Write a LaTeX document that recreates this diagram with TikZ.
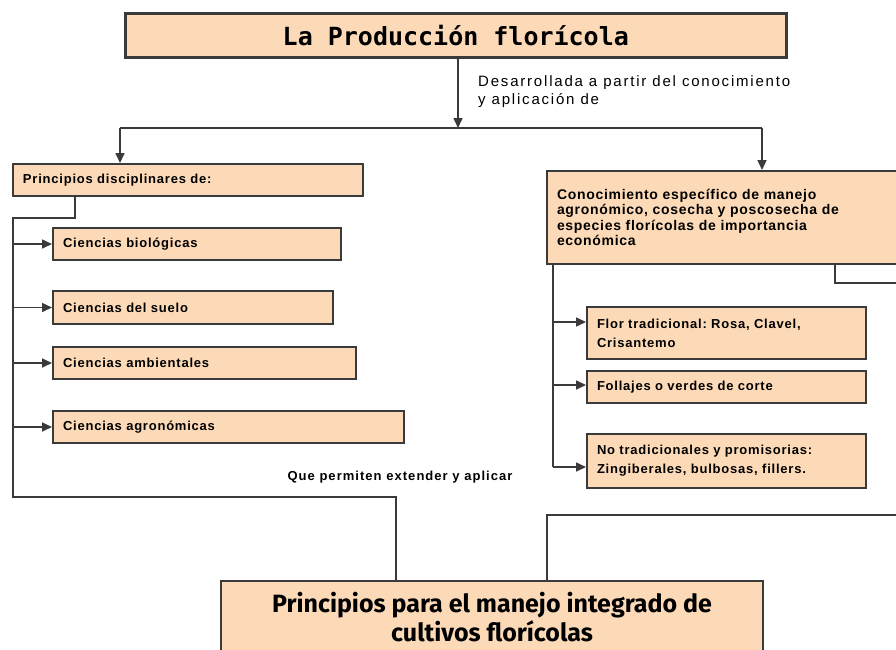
\documentclass[tikz,border=0pt]{standalone}
\usepackage{fontspec}
\setmainfont{Liberation Sans}
\newfontfamily\titlefont{DejaVu Sans Mono}
\newfontfamily\lblfont[LetterSpace=12]{Liberation Sans}
\newfontfamily\boxfont[LetterSpace=6]{Liberation Sans}
\newfontfamily\conofont[LetterSpace=5]{Liberation Sans}
\newfontfamily\quefont[LetterSpace=8]{Liberation Sans}
\newfontfamily\finfont{Fira Sans}
\usetikzlibrary{arrows.meta}
\definecolor{peach}{RGB}{252,218,184}
\definecolor{edge}{RGB}{58,58,58}
\tikzset{
  box/.style={draw=edge, fill=peach, line width=2pt, anchor=north west, inner xsep=10pt, inner ysep=2pt, align=left, font=\frenchspacing\boxfont\bfseries\fontsize{13}{16}\selectfont},
  conn/.style={draw=edge, line width=1.6pt},
  arr/.style={conn, -{Triangle[length=10pt,width=9pt]}}
}
\begin{document}
\frenchspacing
\begin{tikzpicture}[x=1pt,y=-1pt]
\clip (0,0) rectangle (896,649);
\fill[white] (0,0) rectangle (896,649);
% title
\node[box, line width=2.6pt, minimum width=661pt, minimum height=44pt, align=center, font=\titlefont\bfseries\fontsize{25}{28}\selectfont] (top) at (124,12) {La Producción florícola};
% left group
\node[box, minimum width=350pt, minimum height=32pt, text width=330pt] (pd) at (12,163) {Principios disciplinares de:};
\node[box, minimum width=288pt, minimum height=32pt, text width=268pt] (cb) at (52,227) {Ciencias biológicas};
\node[box, minimum width=280pt, minimum height=33pt, text width=260pt] (cs) at (52,290) {Ciencias del suelo};
\node[box, minimum width=303pt, minimum height=32pt, text width=283pt] (ca) at (52,346) {Ciencias ambientales};
\node[box, minimum width=351pt, minimum height=32pt, text width=331pt] (cg) at (52,410) {Ciencias agronómicas};
% right group
\node[box, minimum width=364pt, minimum height=93pt, text width=344pt, font=\conofont\bfseries\fontsize{14}{15.5}\selectfont] (cono) at (546,170) {Conocimiento específico de manejo\\agronómico, cosecha y poscosecha de\\especies florícolas de importancia\\económica};
\node[box, minimum width=279pt, minimum height=52pt, text width=259pt, font=\boxfont\bfseries\fontsize{13}{19}\selectfont] (ft) at (586,306) {Flor tradicional: Rosa, Clavel,\\Crisantemo};
\node[box, minimum width=279pt, minimum height=32pt, text width=259pt] (fo) at (586,370) {Follajes o verdes de corte};
\node[box, minimum width=279pt, minimum height=54pt, text width=259pt, font=\boxfont\bfseries\fontsize{13}{19}\selectfont] (nt) at (586,433) {No tradicionales y promisorias:\\Zingiberales, bulbosas, fillers.};
% final
\node[box, minimum width=542pt, minimum height=72pt, align=center, inner ysep=2pt, font=\finfont\bfseries\fontsize{25}{28.5}\selectfont] (fin) at (220,580) {Principios para el manejo integrado de\\cultivos florícolas};
% labels
\node[anchor=north west, align=left, inner sep=0pt, font=\lblfont\fontsize{15}{18}\selectfont] (lbl) at (478,75) {Desarrollada a partir del conocimiento\\y aplicación de};
\node[anchor=center, inner sep=0pt, font=\quefont\bfseries\fontsize{13}{14}\selectfont] (que) at (400,477) {Que permiten extender y aplicar};
% connectors top
\coordinate (j) at (458,128);
\coordinate (jl) at (120,128);
\coordinate (jr) at (762,128);
\draw[arr] (top.south -| j) -- (j);
\draw[conn] (jl) -- (jr);
\draw[arr] (jl) -- (jl |- pd.north);
\draw[arr] (jr) -- (jr |- cono.north);
% left spine
\coordinate (s1) at (75,218);
\coordinate (s0) at (13,218);
\coordinate (s2) at (13,497);
\coordinate (s3) at (396,497);
\draw[conn] (pd.south -| s1) -- (s1) -- (s0) -- (s2) -- (s3) -- (s3 |- fin.north);
\draw[arr] (s0 |- cb.west) -- (cb.west);
\draw[arr] (s0 |- cs.west) -- (cs.west);
\draw[arr] (s0 |- ca.west) -- (ca.west);
\draw[arr] (s0 |- cg.west) -- (cg.west);
% right spine
\coordinate (r1) at (553,322);
\coordinate (r2) at (553,385);
\coordinate (r3) at (553,467);
\draw[conn] (cono.south -| r3) -- (r3);
\draw[arr] (r1) -- (ft.west |- r1);
\draw[arr] (r2) -- (fo.west |- r2);
\draw[arr] (r3) -- (nt.west |- r3);
% right exits
\coordinate (e1) at (835,283);
\coordinate (e1o) at (905,283);
\draw[conn] (cono.south -| e1) -- (e1) -- (e1o);
\coordinate (e2) at (547,515);
\coordinate (e2o) at (905,515);
\draw[conn] (fin.north -| e2) -- (e2) -- (e2o);
\end{tikzpicture}
\end{document}
